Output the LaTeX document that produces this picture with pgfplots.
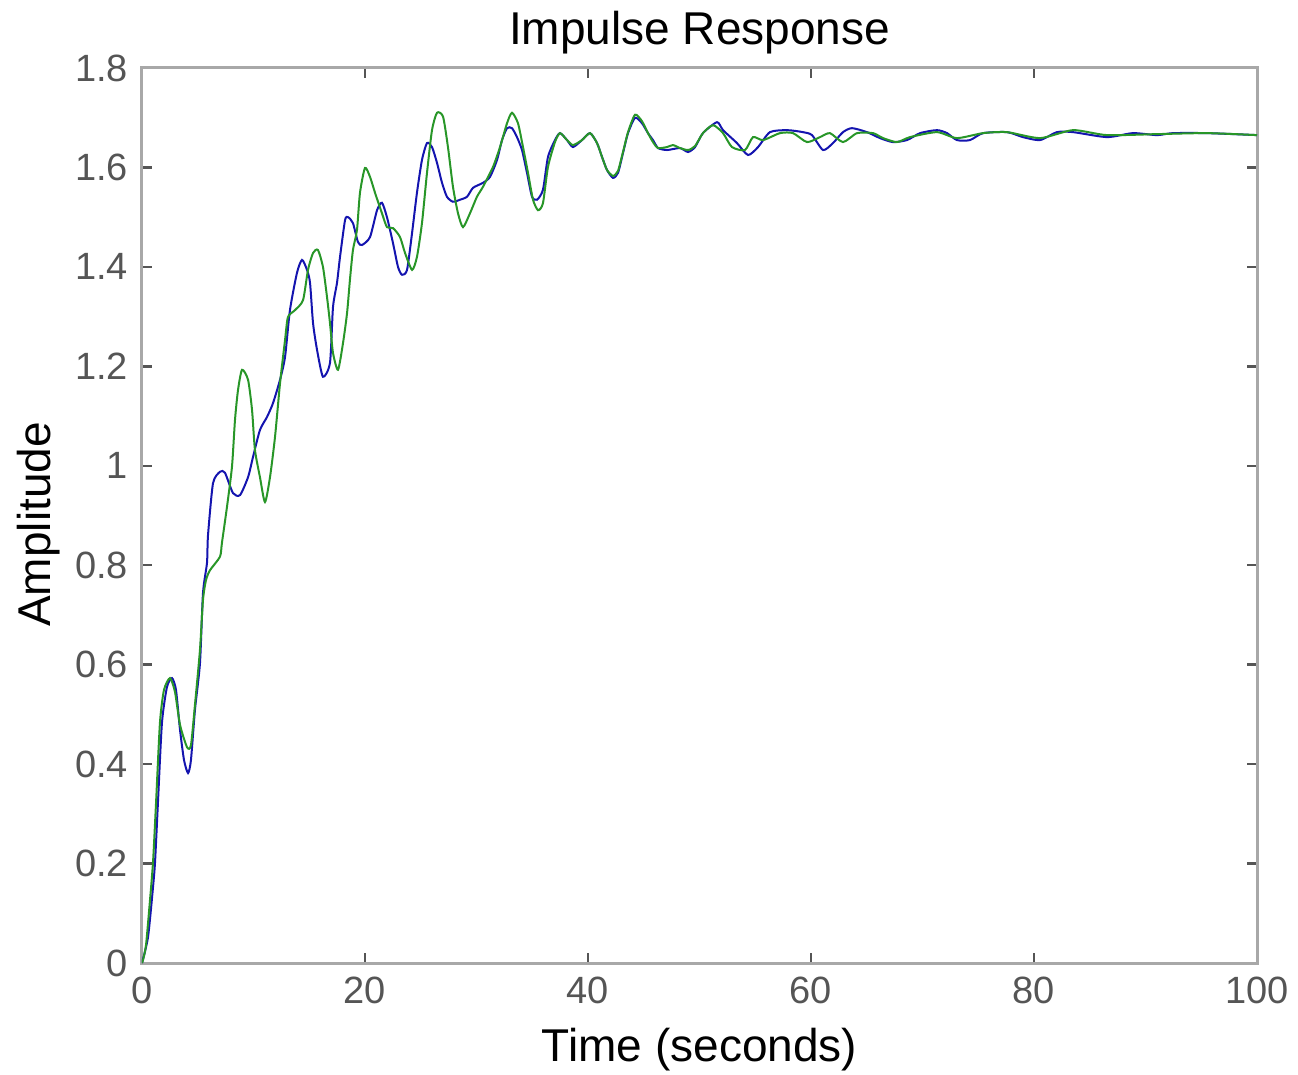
\documentclass[border=0pt]{standalone}
\usepackage{fontspec}
\setmainfont{Liberation Sans}
\usepackage{pgfplots}
\pgfplotsset{compat=1.18}
\definecolor{mblue}{RGB}{20,20,175}
\definecolor{mgreen}{RGB}{40,150,40}
\definecolor{axgray}{RGB}{168,168,168}
\definecolor{tkgray}{RGB}{85,85,85}
\begin{document}
\begin{tikzpicture}
\begin{axis}[
  scale only axis,
  width=278.75bp, height=223.75bp,
  xmin=0, xmax=100, ymin=0, ymax=1.8,
  xtick={0,20,40,60,80,100},
  ytick={0,0.2,0.4,0.6,0.8,1,1.2,1.4,1.6,1.8},
  tick align=inside,
  major tick length=2.5bp,
  every tick/.style={color=tkgray, line width=0.6bp},
  axis line style={color=axgray, line width=0.75bp},
  /pgf/number format/assume math mode=true,
  ticklabel style={font=\fontsize{9.5bp}{11bp}\selectfont, color=tkgray},
  every axis title shift=0pt,
  title={Impulse Response},
  title style={font=\fontsize{11.5bp}{13bp}\selectfont, at={(axis description cs:0.5,1.0257)}, anchor=base},
  xlabel={Time (seconds)},
  xlabel style={font=\fontsize{11.5bp}{13bp}\selectfont, at={(axis description cs:0.5,-0.1106)}, anchor=base},
  ylabel={Amplitude},
  ylabel style={font=\fontsize{11.5bp}{13bp}\selectfont, at={(axis description cs:-0.0825,0.49)}, anchor=base, rotate=0},
  clip=true,
]
\addplot[mblue, line width=0.5bp, smooth, tension=0.4] coordinates {
(0,0) (0.54,0.052) (0.99,0.153) (1.17,0.203) (1.43,0.322) (1.79,0.483) (2.24,0.555) (2.69,0.573) (3.05,0.549) (3.41,0.469) (3.77,0.408) (4.13,0.382) (4.39,0.408) (4.75,0.509) (5.20,0.603) (5.47,0.744) (5.83,0.805) (5.92,0.860) (6.37,0.965) (7.0,0.988) (7.44,0.986) (8.16,0.945) (8.79,0.941) (9.51,0.977) (9.96,1.018) (10.58,1.072) (11.21,1.098) (11.75,1.126) (12.38,1.173) (12.83,1.219) (13.27,1.313) (13.90,1.388) (14.35,1.414) (14.80,1.394) (15.07,1.368) (15.34,1.287) (15.70,1.233) (16.23,1.179) (16.86,1.207) (17.13,1.319) (17.49,1.368) (17.76,1.420) (18.21,1.494) (18.48,1.500) (18.92,1.488) (19.37,1.450) (19.73,1.444) (20.45,1.460) (21.08,1.514) (21.52,1.529) (21.97,1.500) (22.51,1.448) (22.96,1.400) (23.32,1.384) (23.77,1.394) (24.22,1.468) (24.66,1.549) (25.11,1.615) (25.56,1.649) (26.01,1.641) (26.46,1.609) (26.91,1.569) (27.35,1.541) (27.89,1.531) (28.52,1.535) (29.15,1.541) (29.69,1.559) (30.58,1.569) (31.21,1.581) (31.84,1.615) (32.29,1.655) (32.74,1.679) (33.18,1.679) (33.63,1.661) (34.08,1.635) (34.53,1.589) (34.98,1.541) (35.43,1.535) (35.96,1.555) (36.41,1.621) (37.04,1.655) (37.49,1.669) (38.12,1.655) (38.65,1.641) (39.46,1.655) (40.18,1.669) (40.81,1.649) (41.26,1.621) (41.70,1.595) (42.24,1.579) (42.69,1.589) (43.14,1.629) (43.59,1.669) (44.22,1.700) (44.84,1.689) (45.38,1.669) (45.83,1.655) (46.28,1.639) (47.09,1.635) (48.25,1.639) (48.97,1.631) (49.60,1.641) (50.31,1.669) (51.57,1.691) (52.11,1.675) (53.36,1.649) (54.35,1.625) (55.25,1.641) (56.32,1.671) (57.85,1.675) (59.28,1.671) (60.09,1.665) (61.08,1.635) (61.97,1.649) (62.87,1.671) (63.68,1.679) (65.02,1.671) (66.19,1.659) (67.35,1.651) (68.61,1.655) (69.78,1.669) (71.30,1.675) (72.20,1.669) (73.09,1.655) (74.26,1.655) (75.43,1.669) (77.58,1.671) (79.01,1.661) (80.54,1.655) (82.06,1.671) (83.50,1.671) (86.55,1.661) (88.88,1.669) (91.03,1.665) (92.47,1.669) (95.52,1.669) (100,1.665)
};
\addplot[mgreen, line width=0.5bp, smooth, tension=0.4] coordinates {
(0,0) (0.09,0.006) (0.36,0.036) (0.72,0.127) (0.99,0.203) (1.26,0.322) (1.61,0.483) (1.97,0.549) (2.51,0.573) (2.96,0.545) (3.41,0.479) (4.04,0.434) (4.39,0.438) (4.75,0.519) (5.20,0.630) (5.47,0.730) (5.74,0.770) (6.10,0.790) (6.99,0.817) (7.17,0.845) (7.62,0.917) (8.07,0.998) (8.34,1.092) (8.61,1.152) (8.97,1.193) (9.51,1.173) (9.87,1.112) (10.13,1.032) (10.58,0.977) (11.03,0.927) (11.48,0.977) (11.93,1.058) (12.38,1.166) (12.83,1.253) (13.09,1.299) (13.72,1.313) (14.44,1.333) (14.89,1.394) (15.34,1.428) (15.78,1.434) (16.23,1.400) (16.59,1.340) (16.86,1.287) (17.13,1.227) (17.58,1.193) (18.03,1.247) (18.39,1.307) (18.65,1.374) (18.92,1.434) (19.28,1.474) (19.55,1.549) (20.0,1.599) (20.45,1.581) (20.90,1.549) (21.52,1.508) (21.97,1.480) (22.51,1.478) (23.14,1.460) (23.59,1.428) (24.22,1.394) (24.66,1.420) (25.11,1.488) (25.56,1.589) (26.01,1.675) (26.46,1.710) (27.0,1.702) (27.44,1.641) (27.89,1.561) (28.34,1.508) (28.79,1.480) (29.42,1.508) (30.04,1.541) (30.58,1.561) (31.48,1.601) (32.11,1.641) (32.74,1.689) (33.18,1.710) (33.72,1.689) (34.17,1.641) (34.62,1.589) (35.07,1.535) (35.52,1.514) (35.96,1.528) (36.41,1.601) (37.04,1.651) (37.49,1.669) (38.12,1.655) (38.65,1.645) (39.46,1.655) (40.18,1.669) (40.81,1.649) (41.26,1.621) (41.70,1.595) (42.24,1.583) (42.69,1.593) (43.14,1.631) (43.59,1.671) (44.22,1.706) (44.84,1.693) (45.38,1.669) (45.83,1.651) (46.28,1.639) (47.09,1.641) (47.62,1.645) (48.25,1.639) (48.97,1.635) (49.60,1.643) (50.31,1.669) (51.21,1.685) (52.11,1.669) (52.91,1.641) (54.08,1.635) (54.80,1.661) (55.70,1.655) (57.22,1.669) (58.39,1.669) (59.64,1.651) (60.81,1.661) (61.70,1.669) (62.87,1.651) (64.13,1.669) (65.56,1.669) (66.46,1.659) (67.71,1.651) (68.88,1.661) (71.30,1.671) (73.09,1.659) (75.43,1.669) (77.58,1.671) (80.54,1.659) (83.50,1.675) (86.55,1.665) (91.03,1.667) (95.52,1.669) (100,1.665)
};
\end{axis}
\pgfresetboundingbox
\path[use as bounding box] ([xshift=-35.5bp,yshift=-28bp]current axis.south west) rectangle ([xshift=10.25bp,yshift=17bp]current axis.north east);
\end{tikzpicture}
\end{document}
